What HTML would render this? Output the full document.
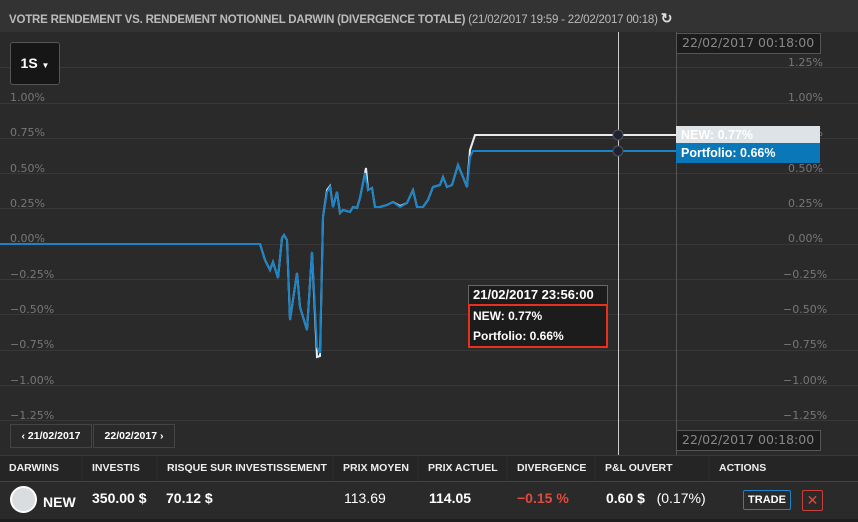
<!DOCTYPE html>
<html><head><meta charset="utf-8"><style>
body{margin:0;width:858px;height:522px;background:#2a2a2a;font-family:"Liberation Sans",sans-serif;overflow:hidden;position:relative}
.a{position:absolute}
.hdr{left:0;top:0;width:858px;height:32px;background:#333;}
.t{left:9px;top:10px;font-size:11.5px;font-weight:bold;color:#bbb;letter-spacing:-0.2px;white-space:nowrap}
.yl{font-size:11px;color:#777;font-family:"DejaVu Sans",sans-serif}
.box{border:1px solid #555;background:#1c1c1c;color:#888;font-size:12.5px;font-family:"DejaVu Sans",sans-serif;box-sizing:border-box;padding-left:5px;line-height:18px;white-space:nowrap}
.th{top:456px;height:25px;font-size:10.5px;font-weight:bold;color:#eee;line-height:25px;box-sizing:border-box;padding-left:9px;border-right:2px solid #2a2a2a;background:#252525;white-space:nowrap}
.td{top:490px;font-size:14px;font-weight:bold;color:#fff;white-space:nowrap}
.tt{font-family:"Liberation Sans",sans-serif;font-weight:bold;color:#fff;white-space:nowrap}
</style></head><body>
<div class="a hdr"></div>
<div class="a t">VOTRE RENDEMENT VS. RENDEMENT NOTIONNEL DARWIN (DIVERGENCE TOTALE) <span style="font-weight:normal">(21/02/2017 19:59 - 22/02/2017 00:18)</span> <span style="font-size:14px;color:#ddd">&#x21bb;</span></div>
<svg class="a" style="left:0;top:0" width="858" height="456">
<g stroke="#383838" stroke-width="1">
<line x1="0" x2="858" y1="67.5" y2="67.5"/><line x1="0" x2="858" y1="103.5" y2="103.5"/><line x1="0" x2="858" y1="138.5" y2="138.5"/><line x1="0" x2="858" y1="173.5" y2="173.5"/><line x1="0" x2="858" y1="208.5" y2="208.5"/><line x1="0" x2="858" y1="244.5" y2="244.5"/><line x1="0" x2="858" y1="279.5" y2="279.5"/><line x1="0" x2="858" y1="314.5" y2="314.5"/><line x1="0" x2="858" y1="350.5" y2="350.5"/><line x1="0" x2="858" y1="385.5" y2="385.5"/><line x1="0" x2="858" y1="420.5" y2="420.5"/>
</g>
<line x1="676.5" x2="676.5" y1="32" y2="456" stroke="#555"/>
<line x1="618.5" x2="618.5" y1="32" y2="456" stroke="#ccc"/>
<polyline fill="none" stroke="#e8ecee" stroke-width="2" points="0,244 260,244 265,260 270,270 273,262 278,278 282,238 284,235 287,240 290,320 297,273 300,307 307,330 312,252 317,357 320,356 323,217 327,190 330,186 333,207 337,192 340,213 343,210 350,212 353,207 357,208 360,198 366,168 368,190 372,188 375,207 380,207 387,205 393,202 400,206 407,203 413,190 417,207 423,207 428,200 433,187 440,185 443,177 447,187 452,185 458,165 463,177 467,187 470,150 475,135 676,135"/>
<polyline fill="none" stroke="#1a84c8" stroke-width="2" points="0,244 260,244 265,260 270,270 273,262 278,278 282,238 284,235 287,240 290,320 297,273 300,307 307,330 312,252 317,347 320,353 323,217 327,192 330,187 333,207 337,192 340,213 343,210 350,212 353,207 357,208 360,198 365,173 368,190 372,188 375,207 380,207 387,205 393,202 400,207 407,203 413,190 417,207 423,207 428,200 433,187 440,185 443,177 447,187 452,185 458,165 463,177 467,187 470,157 473,151 676,151"/>
<circle cx="618" cy="135" r="5" fill="#1e2433" stroke="#555"/>
<circle cx="618" cy="151" r="5" fill="#1e2433" stroke="#555"/>
</svg>
<div class="a yl" style="left:10px;top:91px">1.00%</div>
<div class="a yl" style="left:10px;top:126px">0.75%</div>
<div class="a yl" style="left:10px;top:162px">0.50%</div>
<div class="a yl" style="left:10px;top:197px">0.25%</div>
<div class="a yl" style="left:10px;top:232px">0.00%</div>
<div class="a yl" style="left:10px;top:268px">−0.25%</div>
<div class="a yl" style="left:10px;top:303px">−0.50%</div>
<div class="a yl" style="left:10px;top:338px">−0.75%</div>
<div class="a yl" style="left:10px;top:374px">−1.00%</div>
<div class="a yl" style="left:10px;top:409px">−1.25%</div>
<div class="a yl" style="left:788px;top:56px">1.25%</div>
<div class="a yl" style="left:788px;top:91px">1.00%</div>
<div class="a yl" style="left:788px;top:126px">0.75%</div>
<div class="a yl" style="left:788px;top:162px">0.50%</div>
<div class="a yl" style="left:788px;top:197px">0.25%</div>
<div class="a yl" style="left:788px;top:232px">0.00%</div>
<div class="a yl" style="left:783px;top:268px">−0.25%</div>
<div class="a yl" style="left:783px;top:303px">−0.50%</div>
<div class="a yl" style="left:783px;top:338px">−0.75%</div>
<div class="a yl" style="left:783px;top:374px">−1.00%</div>
<div class="a yl" style="left:783px;top:409px">−1.25%</div>
<div class="a box" style="left:676px;top:33px;width:145px;height:21px">22/02/2017 00:18:00</div>
<div class="a box" style="left:676px;top:430px;width:145px;height:21px">22/02/2017 00:18:00</div>
<div class="a tt" style="left:676px;top:126px;width:144px;height:17px;background:#dde3e6;font-size:12.5px;line-height:18px;padding-left:5px;box-sizing:border-box">NEW: 0.77%</div>
<div class="a tt" style="left:676px;top:143px;width:144px;height:20px;background:#0a77b8;font-size:12.5px;line-height:20px;padding-left:5px;box-sizing:border-box">Portfolio: 0.66%</div>
<div class="a" style="left:10px;top:42px;width:50px;height:43px;background:#161616;border:1px solid #555;border-radius:3px;box-sizing:border-box;color:#fff;font-weight:bold;font-size:14px;line-height:41px;text-align:center">1S <span style="font-size:8px">&#9660;</span></div>
<div class="a tt" style="left:468px;top:285px;width:140px;height:20px;background:#1c1c1c;border:1px solid #666;box-sizing:border-box;font-size:13px;line-height:18px;padding-left:4px">21/02/2017 23:56:00</div>
<div class="a tt" style="left:468px;top:304px;width:140px;height:44px;background:#1c1c1c;border:2px solid #e8301e;box-sizing:border-box;font-size:12px;line-height:20px;padding-left:3px">NEW: 0.77%<br>Portfolio: 0.66%</div>
<div class="a" style="left:10px;top:424px;width:82px;height:24px;border:1px solid #444;box-sizing:border-box;color:#fff;font-size:10.5px;font-weight:bold;line-height:22px;text-align:center">&#x2039; 21/02/2017</div>
<div class="a" style="left:93px;top:424px;width:82px;height:24px;border:1px solid #444;box-sizing:border-box;color:#fff;font-size:10.5px;font-weight:bold;line-height:22px;text-align:center">22/02/2017 &#x203a;</div>
<div class="a" style="left:0;top:455px;width:858px;height:1px;background:#3a3a3a"></div>
<div class="a th" style="left:0;width:83px">DARWINS</div>
<div class="a th" style="left:83px;width:75px">INVESTIS</div>
<div class="a th" style="left:158px;width:176px">RISQUE SUR INVESTISSEMENT</div>
<div class="a th" style="left:334px;width:85px">PRIX MOYEN</div>
<div class="a th" style="left:419px;width:89px">PRIX ACTUEL</div>
<div class="a th" style="left:508px;width:88px">DIVERGENCE</div>
<div class="a th" style="left:596px;width:114px">P&amp;L OUVERT</div>
<div class="a th" style="left:710px;width:148px;border-right:none">ACTIONS</div>
<div class="a" style="left:0;top:481px;width:858px;height:1px;background:#444"></div>
<div class="a" style="left:10px;top:486px;width:27px;height:27px;border-radius:50%;background:#d9dde0;border:2px solid #fff;box-sizing:border-box"></div>
<div class="a td" style="left:43px;top:494px">NEW</div>
<div class="a td" style="left:92px">350.00 $</div>
<div class="a td" style="left:166px">70.12 $</div>
<div class="a td" style="left:344px;font-weight:normal">113.69</div>
<div class="a td" style="left:429px">114.05</div>
<div class="a td" style="left:517px;color:#e04a3f">−0.15 %</div>
<div class="a td" style="left:606px">0.60 $ &nbsp; <span style="font-weight:normal">(0.17%)</span></div>
<div class="a" style="left:743px;top:490px;width:48px;height:20px;border:1px solid #1a84c8;border-radius:2px;box-sizing:border-box;color:#fff;font-size:11px;font-weight:bold;line-height:18px;text-align:center">TRADE</div>
<div class="a" style="left:802px;top:490px;width:21px;height:21px;border:1px solid #c9403a;border-radius:2px;box-sizing:border-box;color:#e04a3f;font-size:14px;line-height:18px;text-align:center">&#x2715;</div>
<div class="a" style="left:0;top:519px;width:858px;height:3px;background:#1e1e1e"></div>
</body></html>
